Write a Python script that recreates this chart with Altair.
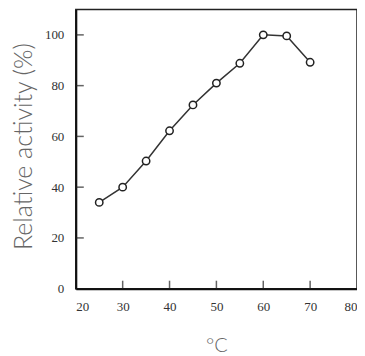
import altair as alt
import pandas as pd

temps = [25, 30, 35, 40, 45, 50, 55, 60, 65, 70]
activity = [34, 40, 50.3, 62.2, 72.4, 81, 88.8, 100, 99.6, 89.2]
x_ticks = [20, 30, 40, 50, 60, 70, 80]
y_ticks = [0, 20, 40, 60, 80, 100]

df = pd.DataFrame({"t": temps, "a": activity})
xt = pd.DataFrame({"v": x_ticks[1:-1]})
yt = pd.DataFrame({"v": y_ticks[1:]})

xscale = alt.Scale(domain=[20, 80], nice=False, zero=False)
yscale = alt.Scale(domain=[0, 110], nice=False)

xaxis = alt.Axis(values=x_ticks, title="°C", ticks=False, grid=False,
                 labelFont="Liberation Serif", labelFontSize=13, labelColor="#333",
                 labelPadding=12, titleFont="Lato", titleFontSize=20,
                 titleFontWeight=300, titleColor="#666", titlePadding=22,
                 domainColor="#111", domainWidth=2)
yaxis = alt.Axis(values=y_ticks, title="Relative activity (%)", ticks=False, grid=False,
                 labelFont="Liberation Serif", labelFontSize=13, labelColor="#333",
                 labelPadding=12, titleFont="Lato", titleFontSize=25,
                 titleFontWeight=300, titleColor="#666", titlePadding=8,
                 titleY=137,
                 domainColor="#111", domainWidth=2)

line = alt.Chart(df).mark_line(color="#333", strokeWidth=1.5).encode(
    x=alt.X("t:Q", scale=xscale, axis=xaxis),
    y=alt.Y("a:Q", scale=yscale, axis=yaxis),
)
pts = alt.Chart(df).mark_point(shape="circle", filled=True, fill="white",
                               stroke="#222", strokeWidth=1.5, size=55, opacity=1).encode(
    x=alt.X("t:Q", scale=xscale),
    y=alt.Y("a:Q", scale=yscale),
)
xticks = alt.Chart(xt).mark_tick(color="#222", thickness=1.5, size=8).encode(
    x=alt.X("v:Q", scale=xscale),
    y=alt.value(276),
)
yticks = alt.Chart(yt).mark_tick(color="#222", thickness=1.5, size=8).encode(
    y=alt.Y("v:Q", scale=yscale),
    x=alt.value(4),
)

chart = alt.layer(xticks, yticks, line, pts).properties(
    width=282, height=280,
    autosize=alt.AutoSizeParams(type="none"),
    padding={"left": 68, "top": 1, "right": 0, "bottom": 66},
).configure_view(stroke="#222", strokeWidth=1.5)

chart.save("out.html", embed_options={"renderer": "svg", "actions": False})
